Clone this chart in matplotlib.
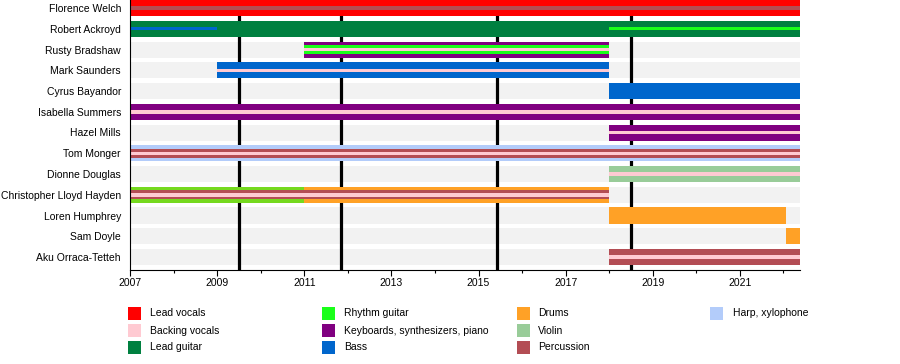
import matplotlib
matplotlib.use("Agg")
import matplotlib.pyplot as plt
from matplotlib.patches import Rectangle

plt.rcParams['font.family'] = ['Liberation Sans', 'DejaVu Sans']

# ---------------- data ----------------
members = ["Florence Welch", "Robert Ackroyd", "Rusty Bradshaw", "Mark Saunders",
           "Cyrus Bayandor", "Isabella Summers", "Hazel Mills", "Tom Monger",
           "Dionne Douglas", "Christopher Lloyd Hayden", "Loren Humphrey",
           "Sam Doyle", "Aku Orraca-Tetteh"]

roles = ["Lead vocals", "Backing vocals", "Lead guitar", "Rhythm guitar",
         "Keyboards, synthesizers, piano", "Bass", "Drums", "Violin",
         "Percussion", "Harp, xylophone"]

START = 2007.0
END = 2022.38

# segments: member, role, start, end, layer (0 = main role, 1 = secondary, 2 = tertiary)
seg_member = ["Florence Welch", "Florence Welch",
              "Robert Ackroyd", "Robert Ackroyd", "Robert Ackroyd",
              "Rusty Bradshaw", "Rusty Bradshaw", "Rusty Bradshaw",
              "Mark Saunders", "Mark Saunders",
              "Cyrus Bayandor",
              "Isabella Summers", "Isabella Summers",
              "Hazel Mills", "Hazel Mills",
              "Tom Monger", "Tom Monger", "Tom Monger",
              "Dionne Douglas", "Dionne Douglas",
              "Christopher Lloyd Hayden", "Christopher Lloyd Hayden",
              "Christopher Lloyd Hayden", "Christopher Lloyd Hayden",
              "Loren Humphrey",
              "Sam Doyle",
              "Aku Orraca-Tetteh", "Aku Orraca-Tetteh"]
seg_role = ["Lead vocals", "Percussion",
            "Lead guitar", "Bass", "Rhythm guitar",
            "Keyboards, synthesizers, piano", "Rhythm guitar", "Backing vocals",
            "Bass", "Backing vocals",
            "Bass",
            "Keyboards, synthesizers, piano", "Backing vocals",
            "Keyboards, synthesizers, piano", "Backing vocals",
            "Harp, xylophone", "Percussion", "Backing vocals",
            "Violin", "Backing vocals",
            "Drums", "Rhythm guitar", "Percussion", "Backing vocals",
            "Drums",
            "Drums",
            "Percussion", "Backing vocals"]
seg_start = [2007.0, 2007.0,
             2007.0, 2007.0, 2018.0,
             2011.0, 2011.0, 2011.0,
             2009.0, 2009.0,
             2018.0,
             2007.0, 2007.0,
             2018.0, 2018.0,
             2007.0, 2007.0, 2007.0,
             2018.0, 2018.0,
             2007.0, 2007.0, 2007.0, 2007.0,
             2018.0,
             2022.05,
             2018.0, 2018.0]
seg_end = [END, END,
           END, 2009.0, END,
           2018.0, 2018.0, 2018.0,
           2018.0, 2018.0,
           END,
           END, END,
           END, END,
           END, END, END,
           END, END,
           2018.0, 2011.0, 2018.0, 2018.0,
           2022.05,
           END,
           END, END]
seg_layer = [0, 2,
             0, 2, 2,
             0, 1, 2,
             0, 2,
             0,
             0, 2,
             0, 2,
             0, 1, 2,
             0, 2,
             0, 0, 1, 2,
             0,
             0,
             0, 2]

album_dates = [2009.5, 2011.84, 2015.42, 2018.5]

major_years = list(range(2007, 2022, 2))
minor_years = list(range(2007, 2023))

# ---------------- styles ----------------
role_colors = {
    "Lead vocals": "#ff0000",
    "Backing vocals": "#ffcad2",
    "Lead guitar": "#008040",
    "Rhythm guitar": "#1aff1a",
    "Keyboards, synthesizers, piano": "#800080",
    "Bass": "#0066cc",
    "Drums": "#ffa126",
    "Violin": "#99cc99",
    "Percussion": "#b34d54",
    "Harp, xylophone": "#b3ccfa",
}
W, H, DPI = 900, 364, 100
ROW_PX = 20.75
layer_px = [16, 9, 3.5]

fig = plt.figure(figsize=(W / DPI, H / DPI), dpi=DPI)
ax_left, ax_right, ax_top, ax_bottom = 130, 800, 0, 270
ax = fig.add_axes([ax_left / W, 1 - ax_bottom / H, (ax_right - ax_left) / W, (ax_bottom - ax_top) / H])

n = len(members)
top_lim = -8 / ROW_PX
bot_lim = (n - 1) + 13 / ROW_PX
ax.set_ylim(bot_lim, top_lim)
ax.set_xlim(START, END)

ypos = {m: i for i, m in enumerate(members)}

# row backgrounds
for i in range(n):
    ax.barh(i, END - START, left=START, height=16 / ROW_PX, color="#f2f2f2", zorder=1, linewidth=0)

# album release lines
for d in album_dates:
    ax.axvline(d, color="black", linewidth=2.3, zorder=2)

# bars (a main-role bar laid over another main-role bar is drawn translucent)
drawn_main = []
for m, r, s, e, l in zip(seg_member, seg_role, seg_start, seg_end, seg_layer):
    alpha = 1.0
    if l == 0 and any(dm == m and s < de and e > ds for dm, ds, de in drawn_main):
        alpha = 0.6
    if l == 0:
        drawn_main.append((m, s, e))
    ax.barh(ypos[m], e - s, left=s, height=layer_px[l] / ROW_PX,
            color=role_colors[r], alpha=alpha, zorder=3 + l, linewidth=0)

ax.set_yticks(range(n))
ax.set_yticklabels(members, fontsize=7.5)
ax.tick_params(axis="y", length=0, pad=6.5)

ax.set_xticks(major_years)
ax.set_xticklabels([str(y) for y in major_years], fontsize=7.5)
ax.set_xticks(minor_years, minor=True)
ax.tick_params(axis="x", which="major", length=4, width=0.8, pad=2)
ax.tick_params(axis="x", which="minor", length=2.5, width=0.8)

for sp in ["top", "right"]:
    ax.spines[sp].set_visible(False)
ax.spines["left"].set_linewidth(0.8)
ax.spines["bottom"].set_linewidth(0.8)
ax.spines["left"].set_zorder(10)
ax.spines["bottom"].set_zorder(10)

# legend (pixel coordinates)
lax = fig.add_axes([0, 0, 1, 1])
lax.set_xlim(0, W)
lax.set_ylim(H, 0)
lax.axis("off")
col_sq = [128, 322, 517, 710]
col_tx = [150, 344, 538, 733]
row_y = [313.5, 330.5, 347.5]
for k, r in enumerate(roles):
    c, rr = divmod(k, 3)
    lax.add_patch(Rectangle((col_sq[c], row_y[rr] - 6.3), 12.5, 12.5,
                            facecolor=role_colors[r], edgecolor="none"))
    lax.text(col_tx[c], row_y[rr], r, fontsize=7.5, va="center", ha="left")

fig.savefig("out.png", dpi=DPI)
